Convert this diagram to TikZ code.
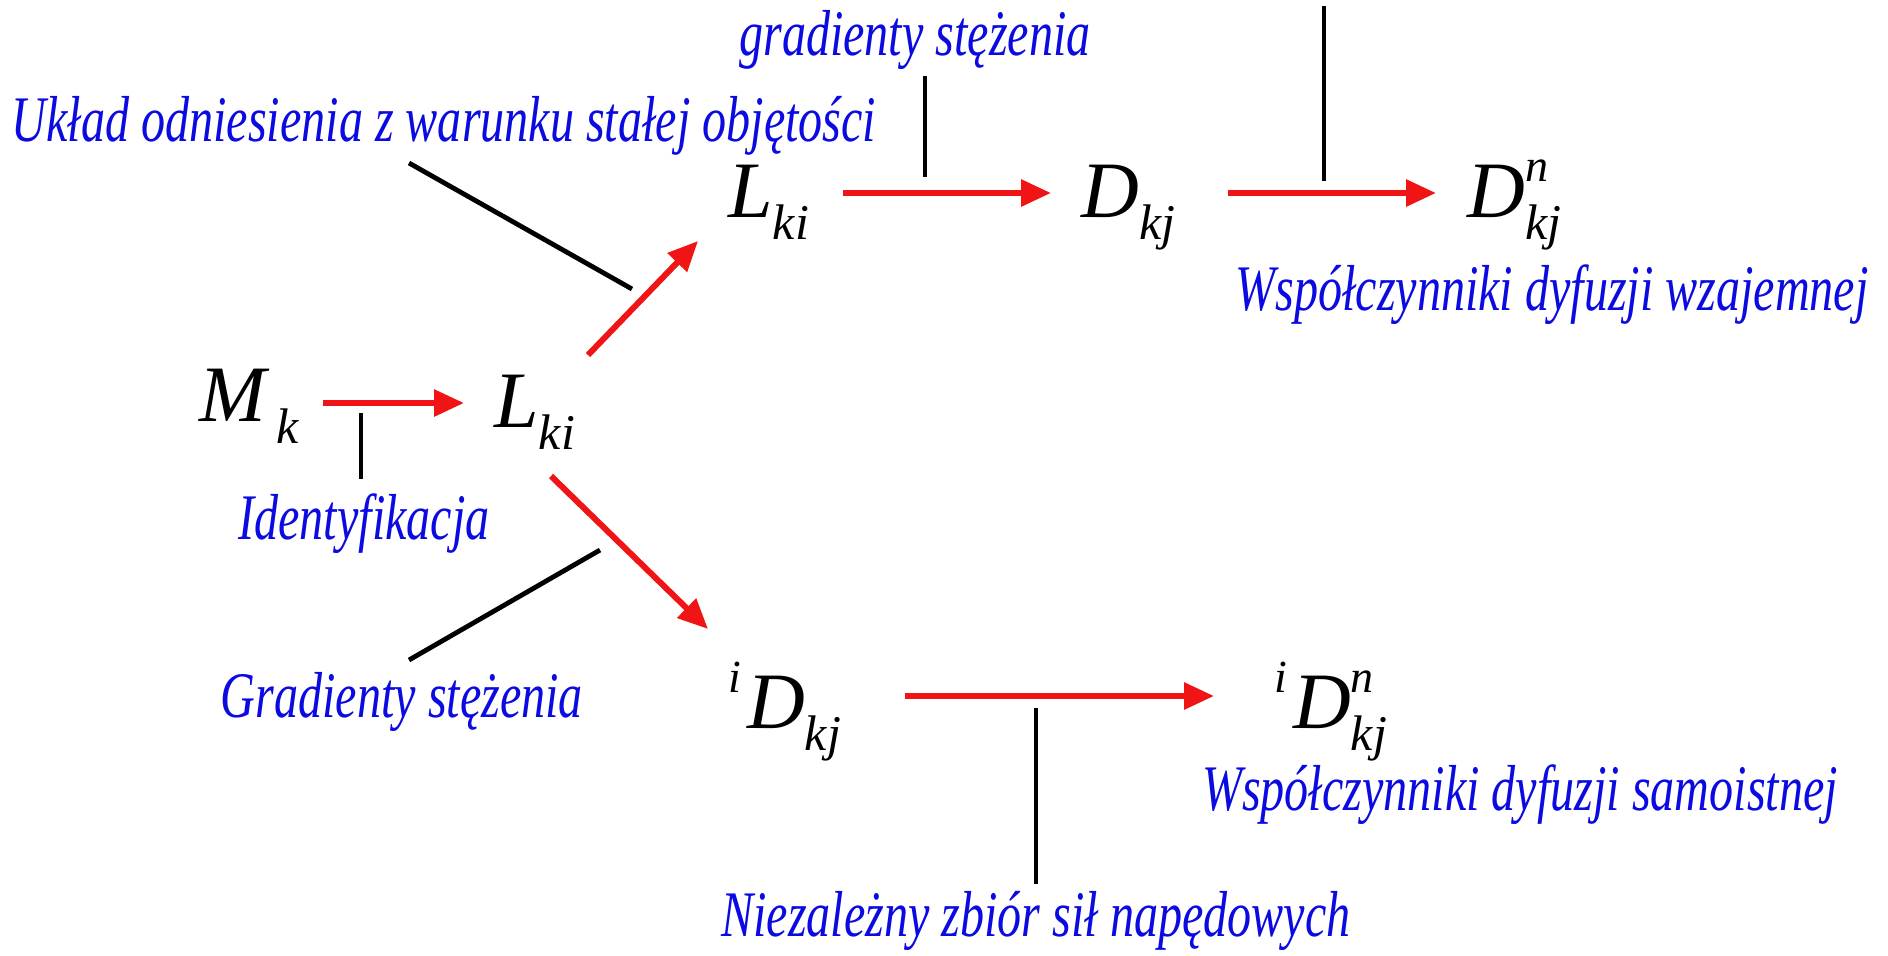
\documentclass[tikz,border=0pt]{standalone}
\usepackage{fontspec}
\setmainfont{Liberation Serif}
\newfontfamily\lblfont[FakeStretch=0.74]{Liberation Serif}
\usetikzlibrary{arrows.meta}
\definecolor{lblblue}{RGB}{10,10,225}
\definecolor{arred}{RGB}{240,20,20}
\newcommand\sbs[1]{\raisebox{-11pt}{\fontsize{25}{27}\selectfont #1}}
\newcommand\sps[1]{\raisebox{18pt}{\fontsize{23}{26}\selectfont #1}}
\newcommand\both[2]{\makebox[0pt][l]{\sps{#1}}\sbs{#2}}
\begin{document}
\begin{tikzpicture}[x=0.5pt,y=-0.5pt,
  lbl/.style={font=\lblfont\itshape\fontsize{32.5}{36}\selectfont, text=lblblue, inner sep=0pt},
  sym/.style={font=\itshape\fontsize{40}{46}\selectfont, inner sep=0pt, anchor=base west},
  ar/.style={draw=arred, line width=3pt, -{Triangle[length=15pt,width=13pt]}},
  bl/.style={draw=black, line width=2.4pt}]
\useasboundingbox (0,0) rectangle (1888,955);
\fill[white] (0,0) rectangle (1888,955);
% symbols
\node[sym] (mk) at (199,421) {M\hspace{5pt}\sbs{k}};
\node[sym] (lkiA) at (494,427) {L\sbs{ki}};
\node[sym] (lkiB) at (728,217) {L\sbs{ki}};
\node[sym] (dkj) at (1081,217) {D\sbs{kj}};
\node[sym] (dnkj) at (1467,217) {D\both{n}{kj}};
\node[sym] (idkj) at (728,728) {\sps{i}\hspace{3pt}D\sbs{kj}};
\node[sym] (idnkj) at (1274,728) {\sps{i}\hspace{3pt}D\both{n}{kj}};
% labels
\node[lbl] (ident) at (364,524) {Identyfikacja};
\node[lbl] (uklad) at (444,126) {Układ odniesienia z warunku stałej objętości};
\node[lbl] (gradA) at (915,40) {gradienty stężenia};
\node[lbl] (wzaj) at (1552,295) {Współczynniki dyfuzji wzajemnej};
\node[lbl] (gradB) at (402,702) {Gradienty stężenia};
\node[lbl] (samo) at (1520,795) {Współczynniki dyfuzji samoistnej};
\node[lbl] (niez) at (1036,921) {Niezależny zbiór sił napędowych};
% arrow end points
\coordinate (a1s) at (323,403); \coordinate (a1e) at (464,403);
\coordinate (a2s) at (588,355); \coordinate (a2e) at (698,241);
\coordinate (a3s) at (843,193); \coordinate (a3e) at (1051,193);
\coordinate (a4s) at (1228,193); \coordinate (a4e) at (1436,193);
\coordinate (a5s) at (551,476); \coordinate (a5e) at (708,629);
\coordinate (a6s) at (905,696); \coordinate (a6e) at (1214,696);
% black connector ends
\coordinate (b1a) at (361,413); \coordinate (b1b) at (361,479);
\coordinate (b2a) at (409,163); \coordinate (b2b) at (632,289);
\coordinate (b3a) at (925,76); \coordinate (b3b) at (925,177);
\coordinate (b4a) at (1324,6); \coordinate (b4b) at (1324,181);
\coordinate (b5a) at (600,550); \coordinate (b5b) at (409,660);
\coordinate (b6a) at (1036,708); \coordinate (b6b) at (1036,884);
% red arrows
\draw[ar] (a1s) -- (a1e);
\draw[ar] (a2s) -- (a2e);
\draw[ar] (a3s) -- (a3e);
\draw[ar] (a4s) -- (a4e);
\draw[ar] (a5s) -- (a5e);
\draw[ar] (a6s) -- (a6e);
% black lines
\draw[bl] (b1a) -- (b1b);
\draw[bl] (b2a) -- (b2b);
\draw[bl] (b3a) -- (b3b);
\draw[bl] (b4a) -- (b4b);
\draw[bl] (b5a) -- (b5b);
\draw[bl] (b6a) -- (b6b);
\end{tikzpicture}
\end{document}
